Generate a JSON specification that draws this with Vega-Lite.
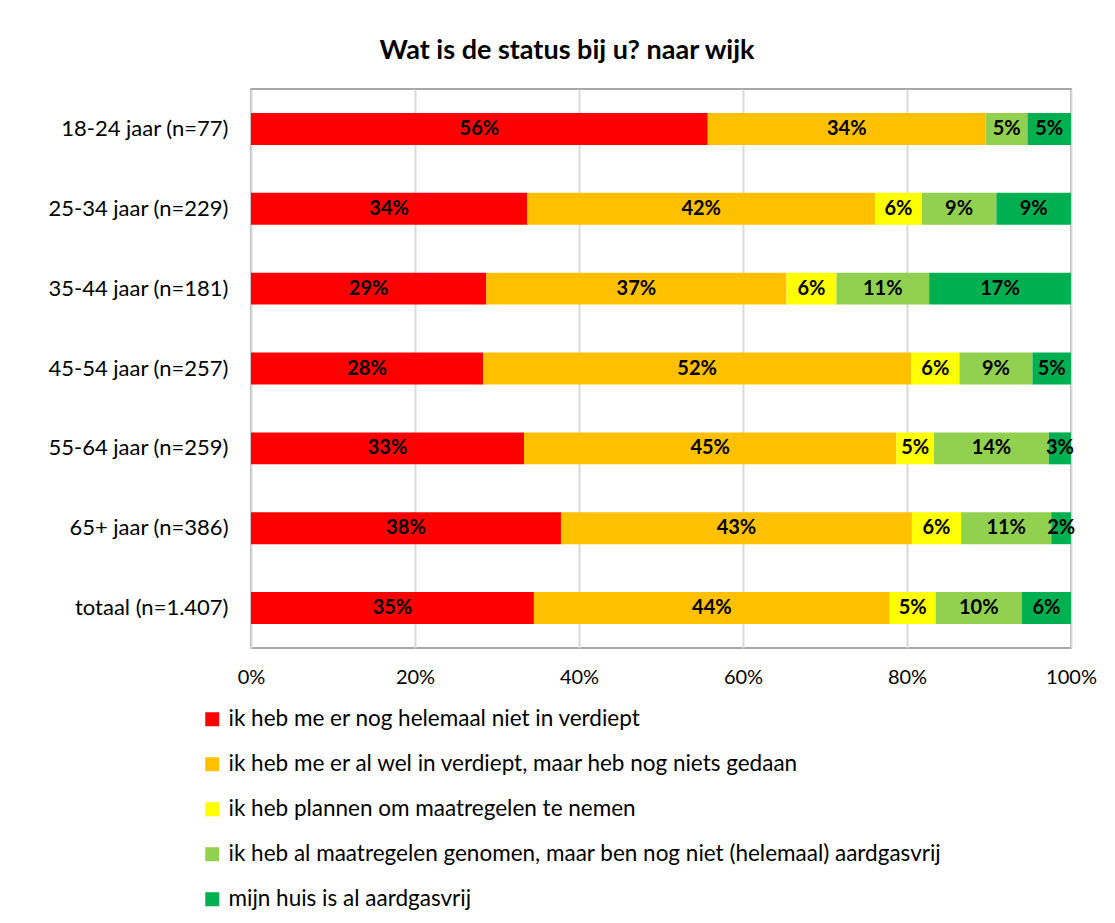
{
  "$schema": "https://vega.github.io/schema/vega-lite/v6.json",
  "width": 820,
  "height": 559,
  "autosize": {"type": "none"},
  "padding": {"left": 251, "top": 89, "right": 44, "bottom": 275},
  "background": "white",
  "title": {
    "text": "Wat is de status bij u? naar wijk",
    "fontSize": 27,
    "fontWeight": "bold",
    "font": "Lato",
    "color": "#000000",
    "anchor": "middle",
    "dx": -94,
    "offset": 24
  },
  "data": {
    "values": [
      {"groep": "18-24 jaar (n=77)", "status": "ik heb me er nog helemaal niet in verdiept", "pct": 55.7, "label": "56%"},
      {"groep": "18-24 jaar (n=77)", "status": "ik heb me er al wel in verdiept, maar heb nog niets gedaan", "pct": 33.9, "label": "34%"},
      {"groep": "18-24 jaar (n=77)", "status": "ik heb al maatregelen genomen, maar ben nog niet (helemaal) aardgasvrij", "pct": 5.1, "label": "5%"},
      {"groep": "18-24 jaar (n=77)", "status": "mijn huis is al aardgasvrij", "pct": 5.3, "label": "5%"},

      {"groep": "25-34 jaar (n=229)", "status": "ik heb me er nog helemaal niet in verdiept", "pct": 33.7, "label": "34%"},
      {"groep": "25-34 jaar (n=229)", "status": "ik heb me er al wel in verdiept, maar heb nog niets gedaan", "pct": 42.4, "label": "42%"},
      {"groep": "25-34 jaar (n=229)", "status": "ik heb plannen om maatregelen te nemen", "pct": 5.7, "label": "6%"},
      {"groep": "25-34 jaar (n=229)", "status": "ik heb al maatregelen genomen, maar ben nog niet (helemaal) aardgasvrij", "pct": 9.1, "label": "9%"},
      {"groep": "25-34 jaar (n=229)", "status": "mijn huis is al aardgasvrij", "pct": 9.1, "label": "9%"},

      {"groep": "35-44 jaar (n=181)", "status": "ik heb me er nog helemaal niet in verdiept", "pct": 28.7, "label": "29%"},
      {"groep": "35-44 jaar (n=181)", "status": "ik heb me er al wel in verdiept, maar heb nog niets gedaan", "pct": 36.6, "label": "37%"},
      {"groep": "35-44 jaar (n=181)", "status": "ik heb plannen om maatregelen te nemen", "pct": 6.1, "label": "6%"},
      {"groep": "35-44 jaar (n=181)", "status": "ik heb al maatregelen genomen, maar ben nog niet (helemaal) aardgasvrij", "pct": 11.3, "label": "11%"},
      {"groep": "35-44 jaar (n=181)", "status": "mijn huis is al aardgasvrij", "pct": 17.3, "label": "17%"},

      {"groep": "45-54 jaar (n=257)", "status": "ik heb me er nog helemaal niet in verdiept", "pct": 28.3, "label": "28%"},
      {"groep": "45-54 jaar (n=257)", "status": "ik heb me er al wel in verdiept, maar heb nog niets gedaan", "pct": 52.2, "label": "52%"},
      {"groep": "45-54 jaar (n=257)", "status": "ik heb plannen om maatregelen te nemen", "pct": 5.9, "label": "6%"},
      {"groep": "45-54 jaar (n=257)", "status": "ik heb al maatregelen genomen, maar ben nog niet (helemaal) aardgasvrij", "pct": 8.9, "label": "9%"},
      {"groep": "45-54 jaar (n=257)", "status": "mijn huis is al aardgasvrij", "pct": 4.7, "label": "5%"},

      {"groep": "55-64 jaar (n=259)", "status": "ik heb me er nog helemaal niet in verdiept", "pct": 33.3, "label": "33%"},
      {"groep": "55-64 jaar (n=259)", "status": "ik heb me er al wel in verdiept, maar heb nog niets gedaan", "pct": 45.4, "label": "45%"},
      {"groep": "55-64 jaar (n=259)", "status": "ik heb plannen om maatregelen te nemen", "pct": 4.6, "label": "5%"},
      {"groep": "55-64 jaar (n=259)", "status": "ik heb al maatregelen genomen, maar ben nog niet (helemaal) aardgasvrij", "pct": 14.0, "label": "14%"},
      {"groep": "55-64 jaar (n=259)", "status": "mijn huis is al aardgasvrij", "pct": 2.7, "label": "3%"},

      {"groep": "65+ jaar (n=386)", "status": "ik heb me er nog helemaal niet in verdiept", "pct": 37.8, "label": "38%"},
      {"groep": "65+ jaar (n=386)", "status": "ik heb me er al wel in verdiept, maar heb nog niets gedaan", "pct": 42.8, "label": "43%"},
      {"groep": "65+ jaar (n=386)", "status": "ik heb plannen om maatregelen te nemen", "pct": 6.0, "label": "6%"},
      {"groep": "65+ jaar (n=386)", "status": "ik heb al maatregelen genomen, maar ben nog niet (helemaal) aardgasvrij", "pct": 11.0, "label": "11%"},
      {"groep": "65+ jaar (n=386)", "status": "mijn huis is al aardgasvrij", "pct": 2.4, "label": "2%"},

      {"groep": "totaal (n=1.407)", "status": "ik heb me er nog helemaal niet in verdiept", "pct": 34.5, "label": "35%"},
      {"groep": "totaal (n=1.407)", "status": "ik heb me er al wel in verdiept, maar heb nog niets gedaan", "pct": 43.4, "label": "44%"},
      {"groep": "totaal (n=1.407)", "status": "ik heb plannen om maatregelen te nemen", "pct": 5.6, "label": "5%"},
      {"groep": "totaal (n=1.407)", "status": "ik heb al maatregelen genomen, maar ben nog niet (helemaal) aardgasvrij", "pct": 10.5, "label": "10%"},
      {"groep": "totaal (n=1.407)", "status": "mijn huis is al aardgasvrij", "pct": 6.0, "label": "6%"}
    ]
  },
  "transform": [
    {"calculate": "indexof(['ik heb me er nog helemaal niet in verdiept','ik heb me er al wel in verdiept, maar heb nog niets gedaan','ik heb plannen om maatregelen te nemen','ik heb al maatregelen genomen, maar ben nog niet (helemaal) aardgasvrij','mijn huis is al aardgasvrij'], datum.status)", "as": "ord"},
    {"stack": "pct", "groupby": ["groep"], "sort": [{"field": "ord", "order": "ascending"}], "as": ["x0", "x1"]},
    {"calculate": "(datum.x0 + datum.x1) / 2", "as": "xmid"}
  ],
  "encoding": {
    "y": {
      "field": "groep",
      "type": "nominal",
      "sort": ["18-24 jaar (n=77)", "25-34 jaar (n=229)", "35-44 jaar (n=181)", "45-54 jaar (n=257)", "55-64 jaar (n=259)", "65+ jaar (n=386)", "totaal (n=1.407)"],
      "scale": {"paddingInner": 0.6, "paddingOuter": 0.3},
      "axis": {
        "title": null,
        "ticks": false,
        "domain": false,
        "labelPadding": 23,
        "labelFontSize": 22,
        "labelFont": "Lato",
        "labelColor": "#000000",
        "labelLimit": 300
      }
    }
  },
  "layer": [
    {
      "mark": {"type": "bar"},
      "encoding": {
        "x": {
          "field": "x0",
          "type": "quantitative",
          "scale": {"domain": [0, 100], "nice": false},
          "axis": {
            "title": null,
            "values": [0, 20, 40, 60, 80, 100],
            "labelExpr": "datum.value + '%'",
            "ticks": false,
            "domain": false,
            "grid": true,
            "gridColor": "#d9d9d9",
            "gridWidth": 2,
            "labelPadding": 19,
            "labelFontSize": 20,
            "labelFont": "Lato",
            "labelColor": "#000000",
            "labelFlush": false
          }
        },
        "x2": {"field": "x1"},
        "color": {
          "field": "status",
          "type": "nominal",
          "scale": {
            "domain": ["ik heb me er nog helemaal niet in verdiept", "ik heb me er al wel in verdiept, maar heb nog niets gedaan", "ik heb plannen om maatregelen te nemen", "ik heb al maatregelen genomen, maar ben nog niet (helemaal) aardgasvrij", "mijn huis is al aardgasvrij"],
            "range": ["#ff0000", "#ffc000", "#ffff00", "#92d050", "#00b050"]
          },
          "legend": {
            "title": null,
            "orient": "none",
            "legendX": -50,
            "legendY": 619,
            "direction": "vertical",
            "symbolType": "square",
            "symbolSize": 196,
            "symbolStrokeWidth": 0,
            "symbolOpacity": 1,
            "labelFontSize": 22.5,
            "labelFont": "Lato",
            "labelColor": "#000000",
            "labelOffset": 5,
            "labelLimit": 900,
            "rowPadding": 22
          }
        }
      }
    },
    {
      "mark": {"type": "text", "fontSize": 20, "fontWeight": "bold", "font": "Lato", "color": "#000000", "align": "center", "baseline": "middle"},
      "encoding": {
        "x": {"field": "xmid", "type": "quantitative"},
        "text": {"field": "label"}
      }
    }
  ],
  "config": {
    "view": {"stroke": "#8c8c8c", "strokeWidth": 1.5}
  }
}
